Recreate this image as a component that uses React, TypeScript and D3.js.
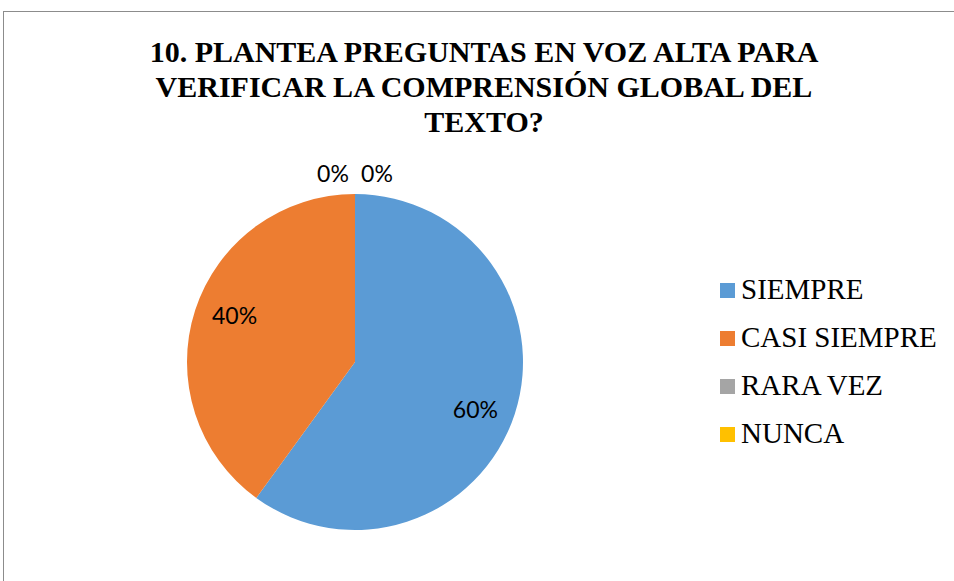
import * as d3 from "d3";

// chart data
const categories = ["SIEMPRE", "CASI SIEMPRE", "RARA VEZ", "NUNCA"];
const values = [60, 40, 0, 0];
const colors = ["#5B9BD5", "#ED7D31", "#A5A5A5", "#FFC000"];
const titleLines = [
  "10. PLANTEA PREGUNTAS EN VOZ ALTA PARA",
  "VERIFICAR LA COMPRENSIÓN GLOBAL DEL",
  "TEXTO?",
];

const width = 954;
const height = 581;
const cx = 355;
const cy = 362;
const radius = 168;
const sans = "Lato, 'Open Sans', sans-serif";

const App = () => {
  const total = d3.sum(values);
  const slices = d3
    .pie<number>()
    .sort(null)
    .value((d) => d)(values);

  const pieArc = d3.arc<d3.PieArcDatum<number>>().innerRadius(0).outerRadius(radius);
  const outerArc = d3
    .arc<d3.PieArcDatum<number>>()
    .innerRadius(radius + 21)
    .outerRadius(radius + 21);

  // inside labels: excel nudges them a bit clockwise from the mid angle
  const insidePos = (d: d3.PieArcDatum<number>) => {
    const a = (d.startAngle + d.endAngle) / 2 + 0.06;
    const r = radius * 0.77;
    return [Math.sin(a) * r, -Math.cos(a) * r];
  };

  // zero slices sit outside, spread apart so they don't overlap
  let zeroIdx = 0;
  const zeroCount = values.filter((v) => v === 0).length;

  return (
    <svg
      width={width}
      height={height}
      style={{ position: "absolute", left: 0, top: 0 }}
    >
      <rect x={0} y={0} width={width} height={height} fill="#fff" />
      <rect
        x={3.5}
        y={11.5}
        width={width + 10}
        height={height + 10}
        fill="none"
        stroke="#8c8c8c"
        strokeWidth={1}
      />
      {titleLines.map((t, i) => (
        <text
          key={i}
          x={484}
          y={62 + i * 35}
          textAnchor="middle"
          fill="#000"
          style={{ fontFamily: "Liberation Serif", fontWeight: 700, fontSize: 30 }}
        >
          {t}
        </text>
      ))}
      <g transform={`translate(${cx}, ${cy})`}>
        {slices.map((d, i) => (
          <path key={i} d={pieArc(d) || ""} fill={colors[i]} />
        ))}
        {slices.map((d, i) => {
          const pct = Math.round((d.data / total) * 100) + "%";
          let x: number, y: number;
          if (d.data === 0) {
            [x, y] = outerArc.centroid(d);
            x += (zeroIdx - (zeroCount - 1) / 2) * 44;
            zeroIdx++;
          } else {
            [x, y] = insidePos(d);
          }
          return (
            <text
              key={i}
              x={x}
              y={y}
              textAnchor="middle"
              dominantBaseline="central"
              fontFamily={sans}
              fontSize={23}
              fill="#000"
            >
              {pct}
            </text>
          );
        })}
      </g>
      {categories.map((c, i) => (
        <g key={c} transform={`translate(720, ${283 + i * 48})`}>
          <rect width={15} height={15} fill={colors[i]} />
          <text
            x={21}
            y={16}
            fill="#000"
            style={{ fontFamily: "Liberation Serif", fontSize: 29 }}
          >
            {c}
          </text>
        </g>
      ))}
    </svg>
  );
};

export default App;
